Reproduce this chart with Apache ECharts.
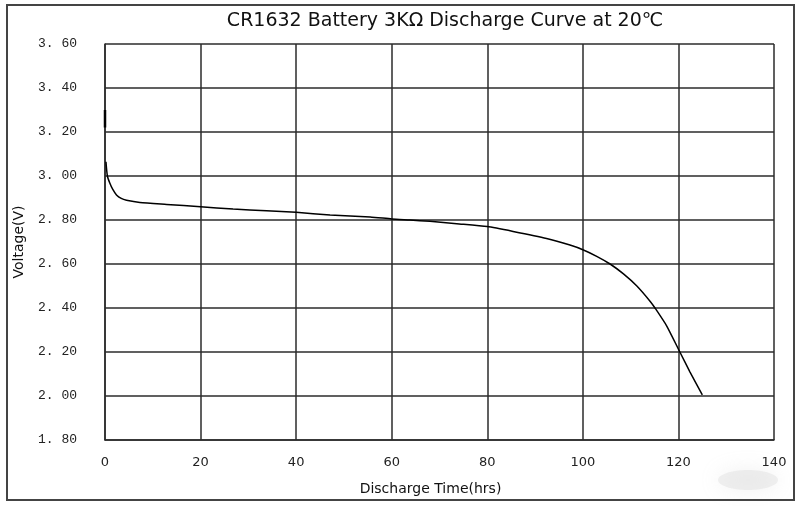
<!DOCTYPE html>
<html><head><meta charset="utf-8">
<script src="https://cdn.jsdelivr.net/npm/echarts@6/dist/echarts.min.js"></script>
<style>html,body{margin:0;padding:0;background:#fff}#c{width:800px;height:506px}</style>
</head><body><div id="c"></div>
<script>
const titleText = "CR1632 Battery 3KΩ Discharge Curve at 20℃";
const xName = "Discharge Time(hrs)";
const yName = "Voltage(V)";
const xTicks = [0, 20, 40, 60, 80, 100, 120, 140];
const yTicks = ["1. 80","2. 00","2. 20","2. 40","2. 60","2. 80","3. 00","3. 20","3. 40","3. 60"];
// initial spike at t=0
const spikeHours = [0, 0];
const spikeVolts = [3.30, 3.22];
// main discharge curve
const hours = [0.2, 0.5, 1, 1.6, 2.4, 3.4, 4.5, 7.3, 12.9, 20, 26.8, 33.8, 40, 47.1, 55.5, 60, 63.8, 68, 73.6, 80, 85.4, 92.4, 97.3, 100, 102.9, 105.7, 108.5, 111.3, 114.1, 115.1, 117.5, 120.3, 122.4, 125];
const volts = [3.065, 3.0, 2.968, 2.94, 2.914, 2.898, 2.89, 2.88, 2.871, 2.86, 2.85, 2.842, 2.835, 2.823, 2.814, 2.805, 2.80, 2.794, 2.783, 2.77, 2.748, 2.716, 2.686, 2.665, 2.635, 2.60, 2.555, 2.50, 2.43, 2.40, 2.32, 2.20, 2.11, 2.005];

const chart = echarts.init(document.getElementById('c'), null, {renderer: 'canvas'});
const gridColor = '#2b2b2b';
chart.setOption({
  backgroundColor: '#fff',
  animation: false,
  title: {
    text: titleText, left: 440, top: 7, textAlign: 'center',
    textStyle: {fontFamily: 'DejaVu Sans', fontSize: 19, fontWeight: 'normal', color: '#111'}
  },
  grid: {left: 105, right: 26, top: 44, bottom: 66, outerBoundsMode: 'none', containLabel: false},
  xAxis: {
    type: 'value', min: 0, max: 140, interval: 20,
    name: xName, nameLocation: 'middle', nameGap: 42,
    nameTextStyle: {fontFamily: 'DejaVu Sans', fontSize: 14, color: '#111', padding: [0, 18, 0, 0]},
    axisLine: {show: true, lineStyle: {color: gridColor, width: 1.5}},
    axisTick: {show: false},
    axisLabel: {fontFamily: 'DejaVu Sans', fontSize: 13, color: '#222', margin: 16,
      formatter: v => xTicks.includes(v) ? String(v) : ''},
    splitLine: {show: true, lineStyle: {color: gridColor, width: 1.5}}
  },
  yAxis: {
    type: 'value', min: 1.8, max: 3.6, interval: 0.2,
    name: yName, nameLocation: 'middle', nameGap: 79, nameRotate: 90,
    nameTextStyle: {fontFamily: 'DejaVu Sans', fontSize: 14, color: '#111'},
    axisLine: {show: true, lineStyle: {color: gridColor, width: 1.5}},
    axisTick: {show: false},
    axisLabel: {fontFamily: 'Liberation Mono', fontSize: 13, color: '#222', margin: 28,
      formatter: v => { const i = Math.round((v - 1.8) / 0.2); return yTicks[i] || ''; }},
    splitLine: {show: true, lineStyle: {color: gridColor, width: 1.5}}
  },
  series: [
    {type: 'line', data: spikeHours.map((h, i) => [h, spikeVolts[i]]), showSymbol: false,
      lineStyle: {color: '#000', width: 2.5}},
    {type: 'line', data: hours.map((h, i) => [h, volts[i]]), showSymbol: false, smooth: 0.2,
      lineStyle: {color: '#000', width: 1.5}}
  ],
  graphic: [
    {type: 'rect', shape: {x: 7, y: 5, width: 787, height: 495}, silent: true,
      style: {fill: 'none', stroke: '#444', lineWidth: 2}},
    {type: 'ellipse', shape: {cx: 748, cy: 480, rx: 30, ry: 10}, silent: true, z: -1,
      style: {fill: 'rgba(215,215,215,0.35)', shadowBlur: 20, shadowColor: 'rgba(190,190,190,0.6)'}}
  ]
});
</script></body></html>
